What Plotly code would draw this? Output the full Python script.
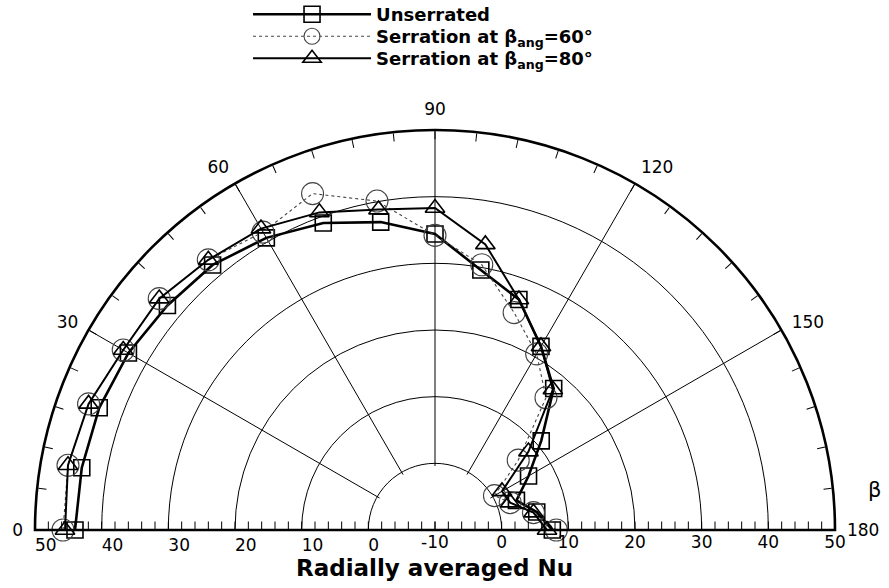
import plotly.graph_objects as go

# ---- data ----
beta = [0, 10, 20, 30, 40, 50, 60, 70, 80, 90, 100, 110, 120, 130, 140, 150, 160, 170, 180]
nu_unserrated = [44.0, 43.8, 43.6, 43.1, 42.4, 41.9, 40.6, 39.0, 36.9, 34.4, 29.6, 26.8, 21.8, 17.7, 10.8, 6.2, 3.0, 5.5, 7.6]
nu_serr60 = [45.8, 45.9, 45.3, 44.0, 44.0, 42.9, 41.6, 43.7, 40.1, 34.2, 30.4, 24.7, 20.5, 15.9, 6.3, 0.3, 2.0, 5.0, 8.2]
nu_serr80 = [45.5, 45.9, 45.3, 44.0, 44.0, 42.9, 42.2, 40.7, 38.8, 38.3, 33.5, 26.8, 21.8, 17.5, 8.3, 1.6, 2.0, 5.0, 6.8]

series_names = ["Unserrated",
                "Serration at β<sub>ang</sub>=60°",
                "Serration at β<sub>ang</sub>=80°"]

angle_major = [0, 30, 60, 90, 120, 150, 180]
angle_minor = [0, 6, 12, 18, 24, 30, 36, 42, 48, 54, 60, 66, 72, 78, 84, 90, 96, 102, 108,
               114, 120, 126, 132, 138, 144, 150, 156, 162, 168, 174, 180]
radial_grid = [0, 10, 20, 30, 40, 50]
radial_ticks = [-10, -8, -6, -4, -2, 0, 2, 4, 6, 8, 10, 12, 14, 16, 18, 20, 22, 24, 26, 28, 30,
                32, 34, 36, 38, 40, 42, 44, 46, 48, 50]
radial_labels_right = ["-10" if v == -10 else (str(v) if v % 10 == 0 else "") for v in radial_ticks]
radial_labels_left = ["" if v == -10 else (str(v) if v % 10 == 0 else "") for v in radial_ticks]

FONT = "DejaVu Sans, Liberation Sans, Arial, sans-serif"

# With rotation=180 / clockwise on a half sector, plotly's angular tick space for
# the visible half runs over [-360, -180]; the same angles are addressed there.
angle_major_tickpos = [a - 360 for a in angle_major]

fig = go.Figure()

fig.add_trace(go.Scatterpolar(
    r=nu_unserrated, theta=beta, name=series_names[0], mode="lines+markers",
    line=dict(color="black", width=2.6),
    marker=dict(symbol="square-open", size=16, color="black", line=dict(width=1.6)),
    subplot="polar", legend="legend"))
fig.add_trace(go.Scatterpolar(
    r=nu_serr60, theta=beta, name=series_names[1], mode="lines+markers",
    line=dict(color="#444444", width=1.1, dash="dot"),
    marker=dict(symbol="circle-open", size=22, color="#444444", line=dict(width=1.1)),
    subplot="polar", legend="legend2"))
fig.add_trace(go.Scatterpolar(
    r=nu_serr80, theta=beta, name=series_names[2], mode="lines+markers",
    line=dict(color="black", width=2.0),
    marker=dict(symbol="triangle-up-open", size=17, color="black", line=dict(width=1.6)),
    subplot="polar", legend="legend3"))

# invisible anchors so the overlay axis subplots get drawn
for sp in ["polar2", "polar3"]:
    fig.add_trace(go.Scatterpolar(r=[radial_ticks[0]], theta=[beta[0]], mode="markers",
                                  marker=dict(size=1, opacity=0), hoverinfo="skip",
                                  showlegend=False, subplot=sp))

dom = dict(x=[35 / 889, 835 / 889], y=[58 / 588, 458 / 588])


def leg(ytop):
    return dict(x=0.279, y=1 - ytop / 588, xanchor="left", yanchor="top",
                font=dict(family=FONT, size=18, color="black", weight="bold"),
                itemwidth=118, bgcolor="rgba(0,0,0,0)", borderwidth=0)


fig.update_layout(
    width=889, height=588,
    margin=dict(l=0, r=0, t=0, b=0, autoexpand=False),
    paper_bgcolor="white",
    font=dict(family=FONT, size=16, color="black"),
    showlegend=True,
    legend=leg(-4), legend2=leg(18), legend3=leg(40),
    polar=dict(
        domain=dom, sector=[0, 180], hole=0.16, bgcolor="white",
        radialaxis=dict(range=[-0.4, 50], tickvals=radial_grid, showticklabels=False,
                        ticks="", showline=False, showgrid=True,
                        gridcolor="black", gridwidth=1),
        angularaxis=dict(rotation=180, direction="clockwise",
                         tickvals=angle_major_tickpos,
                         ticktext=[str(a) for a in angle_major],
                         ticks="outside", ticklen=8, tickcolor="rgba(0,0,0,0)",
                         showline=False, showticklabels=True,
                         showgrid=True, gridcolor="black", gridwidth=1,
                         tickfont=dict(size=17, family=FONT)),
    ),
    polar2=dict(
        domain=dom, sector=[0, 180], bgcolor="rgba(0,0,0,0)",
        radialaxis=dict(range=[-10, 50], angle=180, side="counterclockwise",
                        tickvals=radial_ticks, ticktext=radial_labels_left, tickangle=180,
                        ticks="inside", ticklen=8, tickwidth=1.3, tickcolor="black",
                        showline=False, showgrid=False,
                        tickfont=dict(size=17, family=FONT)),
        angularaxis=dict(tickvals=angle_minor,
                         showticklabels=False, ticks="inside", ticklen=8, tickwidth=1.4,
                         tickcolor="black", showline=True, linecolor="black",
                         linewidth=2.6, showgrid=False),
    ),
    polar3=dict(
        domain=dom, sector=[0, 180], bgcolor="rgba(0,0,0,0)",
        radialaxis=dict(range=[-10, 50], angle=0, side="clockwise",
                        tickvals=radial_ticks, ticktext=radial_labels_right, tickangle=0,
                        ticks="inside", ticklen=8, tickwidth=1.3, tickcolor="black",
                        showline=False, showgrid=False,
                        tickfont=dict(size=17, family=FONT)),
        angularaxis=dict(showticklabels=False, ticks="", showline=False, showgrid=False),
    ),
    annotations=[
        dict(text="<b>Radially averaged Nu</b>", x=434 / 889, y=1 - 568 / 588, xref="paper",
             yref="paper", yanchor="middle", xanchor="center", showarrow=False,
             font=dict(family=FONT, size=23, color="black")),
        dict(text="β", x=874 / 889, y=1 - 490 / 588, xref="paper", yref="paper",
             xanchor="center", yanchor="middle", showarrow=False,
             font=dict(family=FONT, size=21, color="black")),
    ],
)

fig.write_html("out.html")
